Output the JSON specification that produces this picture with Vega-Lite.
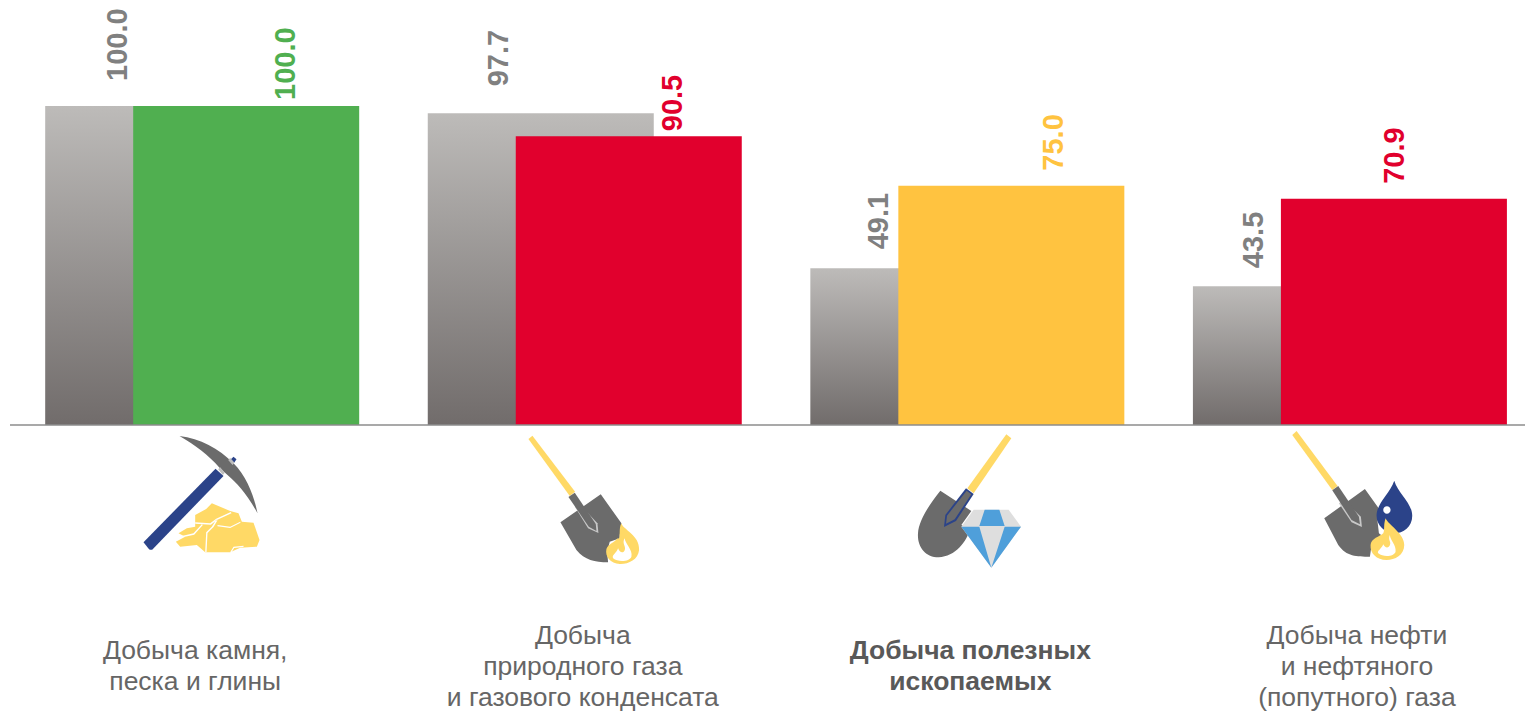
{
"$schema":"https://vega.github.io/schema/vega-lite/v6.json",
"width":1515,"height":711,
"autosize":{"type":"none"},
"padding":{"left":10,"top":0,"right":0,"bottom":0},
"background":"white",
"config":{"view":{"stroke":null},"font":"Liberation Sans"},
"layer":[
{"encoding":{"x":{"field":"category","type":"nominal","axis":null,"scale":{"domain":["stone","gas","minerals","oil"],"range":[0.9,1531.2],"paddingInner":0,"paddingOuter":0}}},
"layer":[
{"data":{"values":[
{"category":"stone","series":"base","status":"base","value":100.0},
{"category":"gas","series":"base","status":"base","value":97.7},
{"category":"minerals","series":"base","status":"base","value":49.1},
{"category":"oil","series":"base","status":"base","value":43.5},
{"category":"stone","series":"current","status":"high","value":100.0},
{"category":"gas","series":"current","status":"low","value":90.5},
{"category":"minerals","series":"current","status":"medium","value":75.0},
{"category":"oil","series":"current","status":"low","value":70.9}
]},
"encoding":{"y":{"field":"value","type":"quantitative","axis":null,"scale":{"domain":[-89.65,133.2],"nice":false,"zero":false}}},
"layer":[
{"transform":[{"filter":"datum.series==='base'"}],
"mark":{"type":"bar","width":226,"xOffset":-44,"color":{"gradient":"linear","x1":0,"y1":0,"x2":0,"y2":1,"stops":[{"offset":0,"color":"#BDBBB9"},{"offset":1,"color":"#716C6B"}]}}},
{"transform":[{"filter":"datum.series==='current'"}],
"mark":{"type":"bar","width":226,"xOffset":44},
"encoding":{"color":{"field":"status","type":"nominal","legend":null,"scale":{"domain":["base","high","medium","low"],"range":["#808080","#50AF50","#FFC340","#E1002D"]}}}},
{"encoding":{"text":{"field":"value","type":"quantitative","format":".1f"},"color":{"field":"status","type":"nominal","legend":null,"scale":{"domain":["base","high","medium","low"],"range":["#808080","#50AF50","#FFC340","#E1002D"]}}},
"layer":[
{"transform":[{"filter":"datum.category==='stone'&&datum.series==='base'"}],"mark":{"type":"text","angle":270,"align":"left","baseline":"middle","fontSize":29,"fontWeight":"bold","xOffset":-84,"yOffset":-25}},
{"transform":[{"filter":"datum.category==='gas'&&datum.series==='base'"}],"mark":{"type":"text","angle":270,"align":"left","baseline":"middle","fontSize":29,"fontWeight":"bold","xOffset":-86,"yOffset":-27}},
{"transform":[{"filter":"datum.category==='minerals'&&datum.series==='base'"}],"mark":{"type":"text","angle":270,"align":"left","baseline":"middle","fontSize":29,"fontWeight":"bold","xOffset":-88,"yOffset":-19}},
{"transform":[{"filter":"datum.category==='oil'&&datum.series==='base'"}],"mark":{"type":"text","angle":270,"align":"left","baseline":"middle","fontSize":29,"fontWeight":"bold","xOffset":-96,"yOffset":-18}},
{"transform":[{"filter":"datum.category==='stone'&&datum.series==='current'"}],"mark":{"type":"text","angle":270,"align":"left","baseline":"middle","fontSize":29,"fontWeight":"bold","xOffset":84,"yOffset":-6}},
{"transform":[{"filter":"datum.category==='gas'&&datum.series==='current'"}],"mark":{"type":"text","angle":270,"align":"left","baseline":"middle","fontSize":29,"fontWeight":"bold","xOffset":88,"yOffset":-5}},
{"transform":[{"filter":"datum.category==='minerals'&&datum.series==='current'"}],"mark":{"type":"text","angle":270,"align":"left","baseline":"middle","fontSize":29,"fontWeight":"bold","xOffset":87,"yOffset":-15}},
{"transform":[{"filter":"datum.category==='oil'&&datum.series==='current'"}],"mark":{"type":"text","angle":270,"align":"left","baseline":"middle","fontSize":29,"fontWeight":"bold","xOffset":45,"yOffset":-15}}
]}
]},
{"data":{"values":[
{"category":"stone","label":"Добыча камня,\nпеска и глины"},
{"category":"gas","label":"Добыча\nприродного газа\nи газового конденсата"},
{"category":"minerals","label":"Добыча полезных\nископаемых"},
{"category":"oil","label":"Добыча нефти\nи нефтяного\n(попутного) газа"}
]},
"encoding":{"y":{"datum":-75.55,"type":"quantitative","axis":null,"scale":{"domain":[-89.65,133.2],"nice":false,"zero":false}},"text":{"field":"label"}},
"layer":[
{"transform":[{"filter":"datum.category==='stone'"}],"mark":{"type":"text","fontSize":26.5,"lineHeight":31,"lineBreak":"\n","color":"#666666","baseline":"middle","xOffset":-7,"yOffset":-15}},
{"transform":[{"filter":"datum.category==='gas'"}],"mark":{"type":"text","fontSize":26.5,"lineHeight":31,"lineBreak":"\n","color":"#666666","baseline":"middle","xOffset":-2,"yOffset":-30}},
{"transform":[{"filter":"datum.category==='minerals'"}],"mark":{"type":"text","fontSize":26.5,"lineHeight":31,"lineBreak":"\n","color":"#595959","fontWeight":"bold","baseline":"middle","xOffset":3,"yOffset":-15}},
{"transform":[{"filter":"datum.category==='oil'"}],"mark":{"type":"text","fontSize":26.5,"lineHeight":31,"lineBreak":"\n","color":"#666666","baseline":"middle","xOffset":7,"yOffset":-30}}
]},
{"data":{"values":[
{"category":"stone","part":"s_head"},{"category":"stone","part":"s_handle"},{"category":"stone","part":"s_tip"},{"category":"stone","part":"s_collar"},{"category":"stone","part":"s_nugget"},{"category":"stone","part":"s_crack"},
{"category":"gas","part":"g_handle"},{"category":"gas","part":"g_blade"},{"category":"gas","part":"g_edge"},{"category":"gas","part":"g_neck"},{"category":"gas","part":"g_flame"},{"category":"gas","part":"g_inner"},
{"category":"minerals","part":"m_handle"},{"category":"minerals","part":"m_blade"},{"category":"minerals","part":"m_edge"},{"category":"minerals","part":"m_neck"},{"category":"minerals","part":"m_gem"},{"category":"minerals","part":"m_facets"},
{"category":"oil","part":"o_handle"},{"category":"oil","part":"o_blade"},{"category":"oil","part":"o_edge"},{"category":"oil","part":"o_neck"},{"category":"oil","part":"o_drop"},{"category":"oil","part":"o_hole"},{"category":"oil","part":"o_flame"},{"category":"oil","part":"o_inner"}
]},
"encoding":{
"y":{"datum":0,"type":"quantitative","axis":null,"scale":{"domain":[-89.65,133.2],"nice":false,"zero":false}},
"shape":{"field":"part","type":"nominal","legend":null,"scale":{
"domain":["s_head","s_handle","s_tip","s_collar","s_nugget","s_crack","g_handle","g_blade","g_edge","g_neck","g_flame","g_inner","m_handle","m_blade","m_edge","m_neck","m_gem","m_facets","o_handle","o_blade","o_edge","o_neck","o_drop","o_hole","o_flame","o_inner"],
"range":[
"M148 33C210 40 265 70 310 115C350 155 372 215 382 265C350 205 320 175 292 150L268 128C235 90 195 60 148 33Z",
"M40 352L256 131L280 153L66 374Q60 376 56 372Z",
"M302 103L310 95L319 103L312 113Z",
"M264 133L270 127L284 143L278 150ZM294 105L300 99L313 113L307 120Z",
"M228 252L245 235L300 258L325 265L335 290L370 293L388 345L380 365L330 368L300 382L225 382L200 360L150 365L137 350L165 335L145 325L170 310L195 305L195 270Z",
"M195 292L240 295L258 281L302 261L304 265L260 285L242 299L195 296ZM258 284L245 305L228 322L225 382L229 382L232 324L250 306L262 286ZM262 300L300 305L330 290L331 293L300 309L262 304ZM145 335L190 325L215 298L218 300L192 329L147 339ZM300 382L310 365L340 362L340 366L312 369L304 382Z",
"M26 42L38 32L166 200L150 213Z",
"M122 292L243 208L305 295L300 330L300 340L270 350L262 380L265 412C225 412 195 405 170 375Z",
"M165 245L178 236L233 295L236 324L205 310Z",
"M146 216L165 203L228 297L230 318L207 305Z",
"M305 295C310 315 360 330 358 375C355 405 325 418 300 417C272 415 255 395 260 372C265 358 285 352 293 340C305 350 295 310 305 295Z",
"M315 340C315 355 340 375 335 395C330 410 295 412 280 400C275 390 290 385 295 370C300 385 312 385 315 375C320 365 305 355 315 340Z",
"M303 28L318 40L205 205L186 190Z",
"M105 197L198 258L168 300L195 310C185 350 150 395 100 397C60 397 35 365 38 325C40 285 75 235 105 197Z",
"M182 190L205 207L152 288L116 306L120 270Z",
"M184 197L198 208L148 283L122 296L125 272Z",
"M205 254L310 254L347 305L258 428L168 305Z",
"M238 254L282 254L298 303L222 303ZM168 305L222 305L258 428ZM298 305L347 305L258 428Z",
"M22 30L35 18L158 183L142 195Z",
"M118 280L240 192L285 255L278 290L282 325L295 335L260 360L255 395C215 395 185 395 160 360Z",
"M162 235L175 225L228 275L231 306L200 292Z",
"M142 196L160 183L222 275L225 298L200 285Z",
"M328 167C340 205 382 235 382 272C382 305 355 325 328 325C300 325 275 300 275 272C275 235 315 205 328 167Z",
"M295 255A11 11 0 1 0 317 255A11 11 0 1 0 295 255Z",
"M302 280C310 300 358 325 358 360C358 390 330 405 305 405C275 405 255 385 257 360C258 340 285 335 295 325C300 315 295 300 302 280Z",
"M315 330C315 345 335 360 332 380C328 395 295 397 280 385C275 378 290 372 295 358C300 370 312 370 315 360C320 350 308 345 315 330Z"
]}},
"color":{"field":"part","type":"nominal","legend":null,"scale":{
"domain":["s_head","s_handle","s_tip","s_collar","s_nugget","s_crack","g_handle","g_blade","g_edge","g_neck","g_flame","g_inner","m_handle","m_blade","m_edge","m_neck","m_gem","m_facets","o_handle","o_blade","o_edge","o_neck","o_drop","o_hole","o_flame","o_inner"],
"range":["#6B6B6B","#2B4389","#2B4389","#BDBDBD","#FFD966","#FFFFFF","#FFD966","#6B6B6B","#C8C8C8","#6B6B6B","#FFD966","#FFFFFF","#FFD966","#6B6B6B","#2B4389","#6B6B6B","#DEDEDE","#4F9FDA","#FFD966","#6B6B6B","#C8C8C8","#6B6B6B","#2B4389","#FFFFFF","#FFD966","#FFFFFF"]}}
},
"layer":[
{"transform":[{"filter":"datum.category==='stone'"}],"mark":{"type":"point","filled":true,"opacity":1,"size":0.4444,"xOffset":-72}},
{"transform":[{"filter":"datum.category==='gas'"}],"mark":{"type":"point","filled":true,"opacity":1,"size":0.4444,"xOffset":-65}},
{"transform":[{"filter":"datum.category==='minerals'"}],"mark":{"type":"point","filled":true,"opacity":1,"size":0.4444,"xOffset":-62}},
{"transform":[{"filter":"datum.category==='oil'"}],"mark":{"type":"point","filled":true,"opacity":1,"size":0.4444,"xOffset":-65}}
]}
],
"resolve":{"scale":{"color":"independent"}}
},
{"data":{"values":[{"baseline":0}]},"mark":{"type":"rule","color":"#8C8C8C","strokeWidth":1.5},"encoding":{"x":{"value":0},"x2":{"value":1515},"y":{"field":"baseline","type":"quantitative","axis":null,"scale":{"domain":[-89.65,133.2],"nice":false,"zero":false}}}}
]
}
